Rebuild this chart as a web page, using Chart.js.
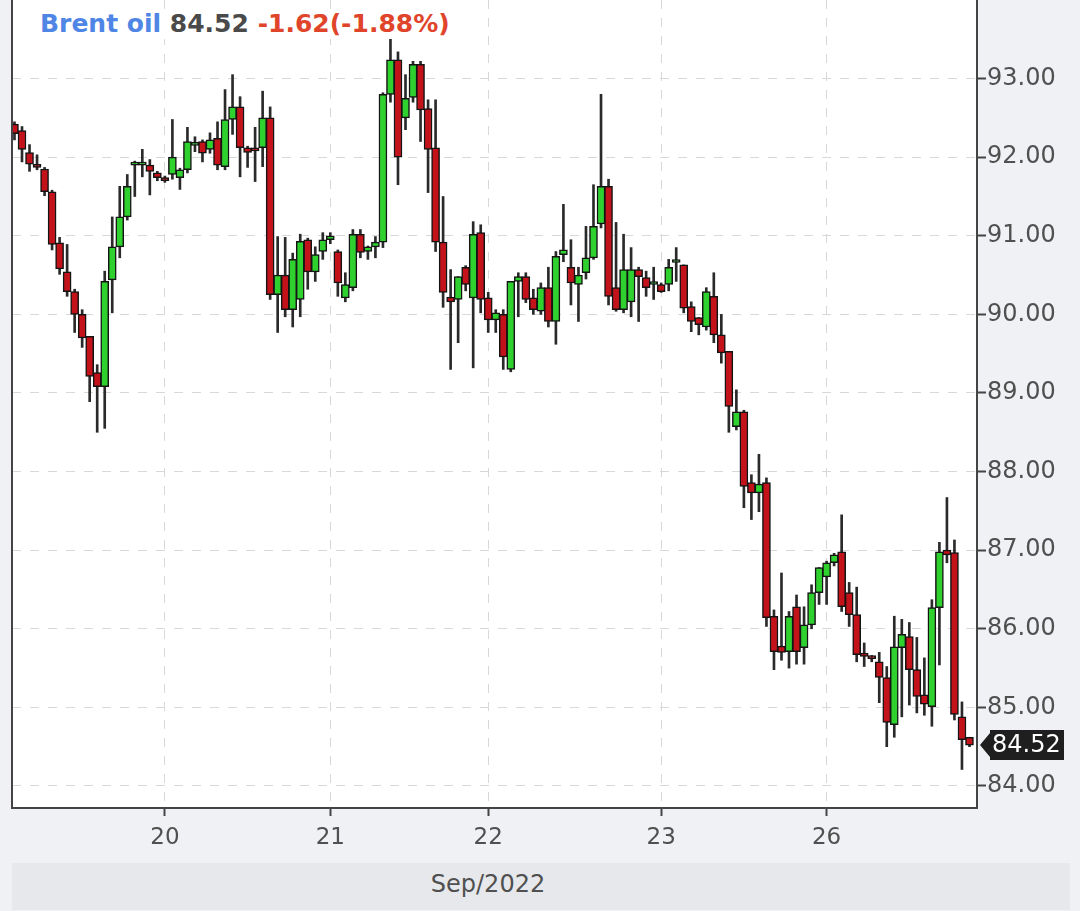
<!DOCTYPE html>
<html>
<head>
<meta charset="utf-8">
<title>Brent oil</title>
<script src="https://cdn.jsdelivr.net/npm/chart.js@4.4.0/dist/chart.umd.min.js"></script>
<style>
  html, body { margin: 0; padding: 0; background: #eff1f4; }
  #wrap { position: relative; width: 1080px; height: 911px; overflow: hidden; }
  #band { position: absolute; left: 12px; top: 863px; width: 1058px; height: 47px; background: #e6e8eb; }
  #band span { position: absolute; left: 0; width: 952px; top: -2px; text-align: center;
               font: 24px "DejaVu Sans", sans-serif; line-height: 47px; color: #505050; }
  #chart { position: absolute; left: 0; top: 0; }
  #title { position: absolute; left: 38px; top: 9px; padding: 0 2px; background: #fff;
           font: bold 25px "DejaVu Sans", sans-serif; line-height: 30px; white-space: nowrap; }
  #title .name { color: #4f86e6; }
  #title .last { color: #4a4a4a; }
  #title .chg { color: #e0452b; }
</style>
</head>
<body>
<div id="wrap">
  <div id="band"><span>Sep/2022</span></div>
  <canvas id="chart" width="1080" height="911"></canvas>
  <div id="title"><span class="name">Brent oil</span> <span class="last">84.52</span> <span class="chg">-1.62(-1.88%)</span></div>
</div>
<script>
// hourly candles, 19 Sep - 26 Sep 2022
const dayLabels = ['20', '21', '22', '23', '26'];
const dayStartIndex = [20, 42, 63, 86, 108];
const yTicks = [84, 85, 86, 87, 88, 89, 90, 91, 92, 93];

const opens = [
  92.42, 92.34, 92.06, 91.91, 91.85, 91.56, 90.91, 90.54, 90.29, 90.00,
  89.72, 89.26, 89.08, 90.44, 90.86, 91.24, 91.90, 91.90, 91.90, 91.80,
  91.74, 91.78, 91.74, 91.84, 92.15, 92.20, 92.10, 92.24, 91.88, 92.48,
  92.64, 92.12, 92.10, 92.12, 92.50, 90.25, 90.50, 90.06, 90.19, 90.95,
  90.54, 90.80, 90.95, 90.80, 90.21, 90.34, 91.02, 90.80, 90.86, 90.92,
  92.80, 93.24, 92.50, 92.76, 93.18, 92.62, 92.12, 90.92, 90.22, 90.19,
  90.60, 90.21, 91.04, 90.21, 89.93, 90.00, 89.30, 90.42, 90.48, 90.21,
  90.04, 90.34, 89.91, 90.76, 90.60, 90.38, 90.53, 90.72, 91.15, 91.63,
  90.34, 90.06, 90.16, 90.57, 90.47, 90.38, 90.38, 90.38, 90.66, 90.63,
  90.10, 89.96, 89.84, 90.23, 89.74, 89.53, 88.57, 88.76, 87.86, 87.73,
  87.86, 86.16, 85.78, 85.71, 86.28, 85.76, 86.05, 86.46, 86.66, 86.84,
  86.98, 86.46, 86.18, 85.69, 85.65, 85.58, 85.38, 84.78, 85.76, 85.90,
  85.48, 85.16, 85.01, 86.27, 87.00, 86.97, 84.88, 84.62
];
const highs = [
  92.45, 92.39, 92.16, 92.03, 91.87, 91.58, 90.98, 90.89, 90.32, 90.06,
  89.72, 89.36, 90.55, 91.24, 91.63, 91.78, 91.95, 92.10, 91.97, 91.82,
  91.76, 92.48, 91.86, 92.38, 92.26, 92.22, 92.31, 92.45, 92.86, 93.05,
  92.77, 92.14, 92.38, 92.84, 92.64, 90.99, 90.98, 90.78, 91.02, 90.97,
  90.86, 91.04, 91.04, 90.82, 90.53, 91.08, 91.08, 90.87, 90.99, 92.82,
  93.50, 93.34, 93.05, 93.22, 93.22, 92.73, 92.73, 91.50, 90.57, 90.48,
  90.62, 91.18, 91.14, 90.28, 90.06, 90.06, 90.42, 90.53, 90.53, 90.32,
  90.40, 90.60, 90.80, 91.40, 90.95, 90.60, 91.12, 91.65, 92.80, 91.72,
  91.17, 91.02, 90.85, 90.60, 90.55, 90.60, 90.40, 90.70, 90.85, 90.63,
  90.16, 89.96, 90.34, 90.53, 90.00, 89.53, 89.04, 88.78, 87.96, 88.22,
  87.92, 86.24, 86.71, 86.22, 86.43, 86.28, 86.56, 86.78, 86.86, 86.96,
  87.45, 86.59, 86.53, 85.82, 85.66, 85.70, 85.52, 86.16, 86.12, 86.08,
  85.89, 85.63, 86.37, 87.10, 87.67, 87.13, 85.07, 84.62
];
const lows = [
  92.22, 91.94, 91.82, 91.84, 91.51, 90.82, 90.51, 90.23, 89.77, 89.58,
  88.89, 88.50, 88.55, 90.02, 90.72, 91.20, 91.50, 91.75, 91.52, 91.70,
  91.68, 91.72, 91.59, 91.80, 92.07, 91.94, 92.05, 91.84, 91.84, 92.29,
  91.75, 91.87, 91.69, 91.88, 90.19, 89.77, 89.97, 89.84, 89.97, 90.32,
  90.42, 90.70, 90.90, 90.23, 90.16, 90.30, 90.72, 90.70, 90.72, 90.85,
  92.70, 91.65, 92.35, 92.70, 92.20, 91.55, 90.80, 90.09, 89.30, 89.64,
  90.30, 89.32, 90.02, 89.77, 89.77, 89.30, 89.27, 89.97, 90.15, 90.00,
  90.00, 89.84, 89.62, 90.67, 90.12, 89.91, 90.45, 90.70, 91.10, 90.12,
  90.04, 90.02, 89.97, 89.91, 90.23, 90.19, 90.28, 90.30, 90.42, 90.02,
  89.78, 89.74, 89.80, 89.64, 89.38, 88.50, 88.53, 87.54, 87.39, 87.49,
  86.03, 85.48, 85.60, 85.50, 85.55, 85.55, 86.00, 86.31, 86.31, 86.80,
  86.22, 86.03, 85.58, 85.52, 85.58, 85.06, 84.50, 84.62, 84.88, 85.03,
  84.93, 84.90, 84.76, 85.54, 86.84, 84.84, 84.21, 84.50
];
const closes = [
  92.30, 92.10, 91.91, 91.87, 91.56, 90.89, 90.58, 90.29, 90.00, 89.70,
  89.21, 89.08, 90.42, 90.86, 91.24, 91.63, 91.92, 91.92, 91.82, 91.74,
  91.70, 92.00, 91.84, 92.20, 92.16, 92.05, 92.22, 91.90, 92.48, 92.64,
  92.12, 92.06, 92.08, 92.50, 90.25, 90.50, 90.06, 90.70, 90.93, 90.54,
  90.76, 90.95, 91.00, 90.40, 90.38, 91.02, 90.79, 90.86, 90.92, 92.80,
  93.24, 92.00, 92.75, 93.18, 92.60, 92.10, 90.92, 90.28, 90.16, 90.48,
  90.38, 91.02, 90.19, 89.93, 90.02, 89.46, 90.42, 90.48, 90.19, 90.06,
  90.34, 89.91, 90.74, 90.82, 90.40, 90.50, 90.72, 91.12, 91.63, 90.23,
  90.06, 90.57, 90.57, 90.48, 90.34, 90.38, 90.29, 90.60, 90.66, 90.08,
  89.91, 89.87, 90.29, 89.74, 89.51, 88.83, 88.76, 87.81, 87.73, 87.84,
  86.14, 85.71, 85.70, 86.16, 85.71, 86.05, 86.46, 86.78, 86.84, 86.94,
  86.28, 86.18, 85.67, 85.65, 85.62, 85.38, 84.81, 85.77, 85.93, 85.48,
  85.14, 85.04, 86.27, 86.98, 86.94, 84.91, 84.59, 84.52
];

const UP = '#2ed12e';
const DOWN = '#c3121a';

const wicks = highs.map((h, i) => ({ x: i, y: [lows[i], h] }));
const bodies = opens.map((o, i) => ({ x: i, y: [o, closes[i]] }));
const bodyColors = opens.map((o, i) => closes[i] >= o ? UP : DOWN);

Chart.defaults.font.family = '"DejaVu Sans", sans-serif';

const plotBg = {
  id: 'plotBg',
  beforeDraw(chart) {
    const { ctx, chartArea: a } = chart;
    ctx.save();
    ctx.fillStyle = '#ffffff';
    ctx.fillRect(a.left, a.top, a.right - a.left, a.bottom - a.top);
    ctx.restore();
  }
};

const leftEdge = {
  id: 'leftEdge',
  afterDatasetsDraw(chart) {
    const { ctx, chartArea: a } = chart;
    ctx.save();
    ctx.strokeStyle = '#444';
    ctx.lineWidth = 2;
    ctx.beginPath();
    ctx.moveTo(a.left, a.top);
    ctx.lineTo(a.left, a.bottom + 1);
    ctx.stroke();
    ctx.restore();
  }
};

// dark tag with the last price on the right axis
const priceTag = {
  id: 'priceTag',
  afterDraw(chart) {
    const { ctx, chartArea: a } = chart;
    const last = closes[closes.length - 1];
    const y = chart.scales.y.getPixelForValue(last);
    const x0 = a.right + 3, bx = a.right + 13, bw = 74, bh = 30;
    ctx.save();
    ctx.fillStyle = '#1f1f1f';
    ctx.beginPath();
    ctx.moveTo(x0, y);
    ctx.lineTo(bx, y - bh / 2 + 3);
    ctx.lineTo(bx, y - bh / 2);
    ctx.lineTo(bx + bw, y - bh / 2);
    ctx.lineTo(bx + bw, y + bh / 2);
    ctx.lineTo(bx, y + bh / 2);
    ctx.lineTo(bx, y + bh / 2 - 3);
    ctx.closePath();
    ctx.fill();
    ctx.fillStyle = '#ffffff';
    ctx.font = '24px "DejaVu Sans", sans-serif';
    ctx.textBaseline = 'middle';
    ctx.textAlign = 'left';
    ctx.fillText(last.toFixed(2), bx + 2, y + 1);
    ctx.restore();
  }
};

new Chart(document.getElementById('chart'), {
  type: 'bar',
  data: {
    datasets: [
      {
        label: 'range',
        data: wicks,
        backgroundColor: '#2a2a2a',
        barThickness: 2,
        grouped: false,
        order: 2
      },
      {
        label: 'Brent oil',
        data: bodies,
        backgroundColor: bodyColors,
        borderColor: '#141414',
        borderWidth: 1.5,
        borderSkipped: false,
        barThickness: 8,
        minBarLength: 3,
        grouped: false,
        order: 1
      }
    ]
  },
  options: {
    responsive: false,
    animation: false,
    layout: { padding: { left: 12, right: 0, top: 0, bottom: 0 } },
    plugins: {
      legend: { display: false },
      tooltip: { enabled: false }
    },
    scales: {
      x: {
        type: 'linear',
        min: -0.33,
        max: 128,
        offset: false,
        afterBuildTicks: s => { s.ticks = dayStartIndex.map(v => ({ value: v })); },
        afterFit: s => { s.height = 103; s.paddingLeft = 0; s.paddingRight = 0; },
        ticks: {
          callback: v => dayLabels[dayStartIndex.indexOf(v)],
          font: { size: 23 },
          color: '#505050',
          padding: 8,
          maxRotation: 0,
          autoSkip: false
        },
        grid: { color: '#d8d8d8', lineWidth: 1, tickLength: 8, tickColor: '#444', tickWidth: 2, offset: false },
        border: { color: '#444', width: 2, dash: [9, 9] }
      },
      y: {
        position: 'right',
        min: 83.72,
        max: 94.0,
        afterBuildTicks: s => { s.ticks = yTicks.map(v => ({ value: v })); },
        afterFit: s => { s.width = 103; s.paddingTop = 0; s.paddingBottom = 0; },
        ticks: {
          callback: v => v.toFixed(2),
          font: { size: 24 },
          color: '#505050',
          padding: 1
        },
        grid: { color: '#d8d8d8', lineWidth: 1, tickLength: 9, tickColor: '#444', tickWidth: 2 },
        border: { color: '#444', width: 2, dash: [9, 9] }
      }
    }
  },
  plugins: [plotBg, leftEdge, priceTag]
});
</script>
</body>
</html>
